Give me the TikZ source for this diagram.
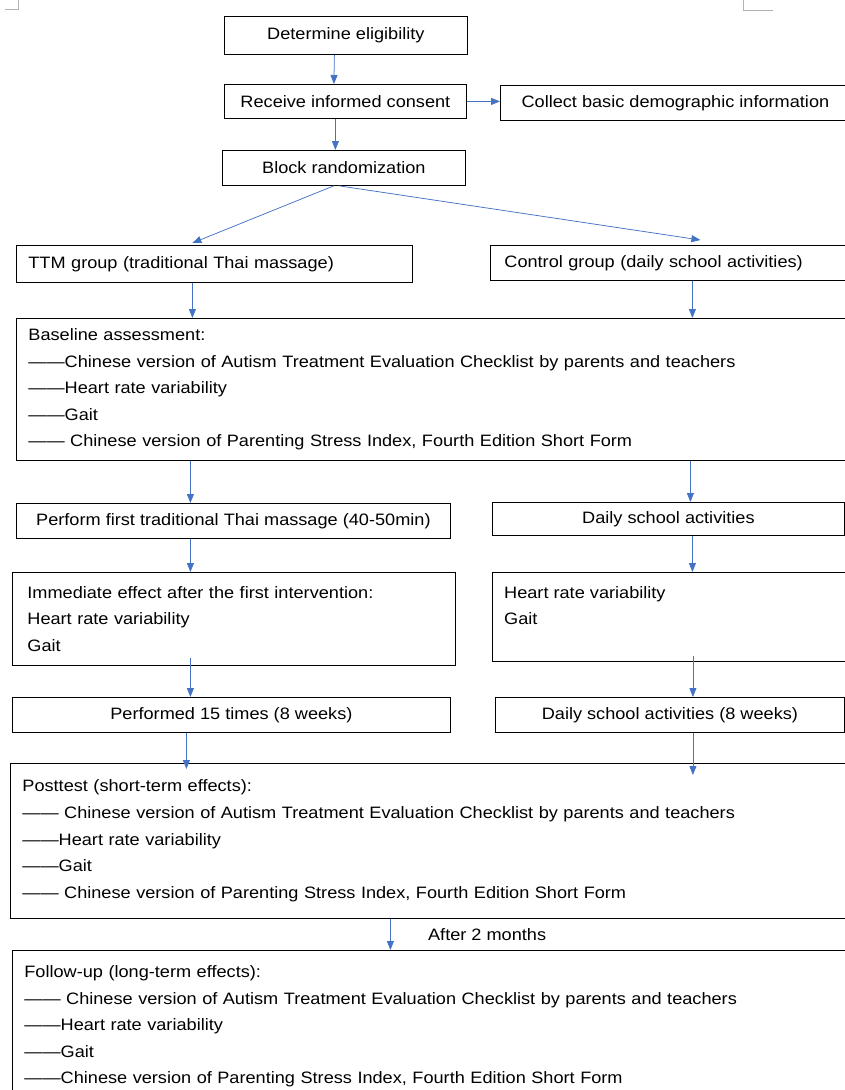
\documentclass[tikz,border=0pt]{standalone}
\usepackage{fontspec}
\setmainfont{Liberation Sans}[FakeStretch=1.1]
\usepackage{xcolor}
\usetikzlibrary{arrows.meta, positioning}

\definecolor{flowblue}{HTML}{4472C4}
\newcommand{\flowfont}{\fontsize{16.5}{26.6}\selectfont}

\begin{document}
\begin{tikzpicture}[
  x=1pt, y=-1pt,
  box/.style={
    rectangle, draw, line width=0.8pt, inner ysep=0pt,
    anchor=north west, font=\flowfont
  },
  leftbox/.style={box, align=left},
  line/.style={draw, -{Triangle[length=9pt,width=7pt]}, line width=0.75pt, color=flowblue},
  cornermark/.style={draw, gray!60, line width=0.6pt}
]
  \useasboundingbox (0,0) rectangle (844,1090);

  % page corner marks
  \draw [cornermark] (5,9) -- (18,9) -- (18,0);
  \draw [cornermark] (743,0) -- (743,10) -- (773,10);

  % enrolment
  \node [box, minimum width=243, minimum height=38] (elig) at (224,16) {Determine eligibility};
  \node [box, minimum width=242, minimum height=34] (consent) at (224,84) {Receive informed consent};
  \node [box, minimum width=350, minimum height=35] (demo) at (500,85) {Collect basic demographic information};
  \node [box, minimum width=243, minimum height=35] (block) at (222,150) {Block randomization};

  % groups
  \node [leftbox, text width=372, inner xsep=12, minimum height=37] (ttm) at (16,245) {TTM group (traditional Thai massage)};
  \node [leftbox, text width=330, inner xsep=14, minimum height=35] (ctrl) at (490,245) {Control group (daily school activities)};

  \node [leftbox, text width=810, inner xsep=12, minimum height=142] (base) at (16,318)
    {Baseline assessment:\\
     ——Chinese version of Autism Treatment Evaluation Checklist by parents and teachers\\
     ——Heart rate variability\\
     ——Gait\\
     —— Chinese version of Parenting Stress Index, Fourth Edition Short Form};

  % intervention
  \node [box, minimum width=434, minimum height=35] (first) at (16,503) {Perform first traditional Thai massage (40-50min)};
  \node [box, minimum width=352, minimum height=33] (daily) at (492,502) {Daily school activities};

  \node [leftbox, text width=413, inner xsep=15, minimum height=93] (immed) at (12,572)
    {Immediate effect after the first intervention:\\
     Heart rate variability\\
     Gait};
  \node [box, minimum width=353, minimum height=89] (hrvbox) at (492,572) {};
  \node [anchor=north west, align=left, inner sep=0pt, font=\flowfont] (hrvtext) at ([xshift=12pt,yshift=-14pt]hrvbox.north west)
    {Heart rate variability\\
     Gait};

  \node [box, minimum width=438, minimum height=35] (times) at (12,697) {Performed 15 times (8 weeks)};
  \node [box, minimum width=349, minimum height=35] (daily8) at (495,697) {Daily school activities (8 weeks)};

  % outcomes
  \node [leftbox, text width=816, inner xsep=12, minimum height=155] (post) at (10,763)
    {Posttest (short-term effects):\\
     —— Chinese version of Autism Treatment Evaluation Checklist by parents and teachers\\
     ——Heart rate variability\\
     ——Gait\\
     —— Chinese version of Parenting Stress Index, Fourth Edition Short Form};

  \node [leftbox, text width=814, inner xsep=12, minimum height=152] (follow) at (12,950)
    {Follow-up (long-term effects):\\
     —— Chinese version of Autism Treatment Evaluation Checklist by parents and teachers\\
     ——Heart rate variability\\
     ——Gait\\
     ——Chinese version of Parenting Stress Index, Fourth Edition Short Form};

  % connectors
  \path [line] ([xshift=-11.5pt]elig.south) -- ([xshift=-11.5pt]consent.north);
  \path [line] (consent.east) -- (consent.east -| demo.west);
  \path [line] ([xshift=-10pt]consent.south) -- ([xshift=-10pt]consent.south |- block.north);
  \path [line] ([xshift=-10pt]block.south) -- ([xshift=-22pt,yshift=2pt]ttm.north);
  \path [line] ([xshift=-5pt]block.south) -- ([xshift=31pt,yshift=5pt]ctrl.north);
  \path [line] ([xshift=-22pt]ttm.south) -- ([xshift=-22pt]ttm.south |- base.north);
  \path [line] ([xshift=23pt]ctrl.south) -- ([xshift=23pt]ctrl.south |- base.north);
  \path [line] ([xshift=-43pt]first.north |- base.south) -- ([xshift=-43pt]first.north);
  \path [line] ([xshift=22pt]daily.north |- base.south) -- ([xshift=22pt]daily.north);
  \path [line] ([xshift=-43pt]first.south) -- ([xshift=-43pt]first.south |- immed.north);
  \path [line] ([xshift=24pt]daily.south) -- ([xshift=24pt]daily.south |- hrvbox.north);
  \path [line] ([xshift=-41pt,yshift=8pt]times.north |- immed.south) -- ([xshift=-41pt]times.north);
  \path [line] ([xshift=23pt,yshift=6pt]daily8.north |- hrvbox.south) -- ([xshift=23pt]daily8.north);
  \path [line, shorten >=-6pt] ([xshift=-45pt]times.south) -- ([xshift=-45pt]times.south |- post.north);
  \path [line, shorten >=-12pt] ([xshift=23pt]daily8.south) -- ([xshift=23pt]daily8.south |- post.north);
  \path [line] ([xshift=-40pt]post.south) -- node[right=34pt, font=\flowfont, text=black]{After 2 months} ([xshift=-40pt]post.south |- follow.north);

\end{tikzpicture}
\end{document}
